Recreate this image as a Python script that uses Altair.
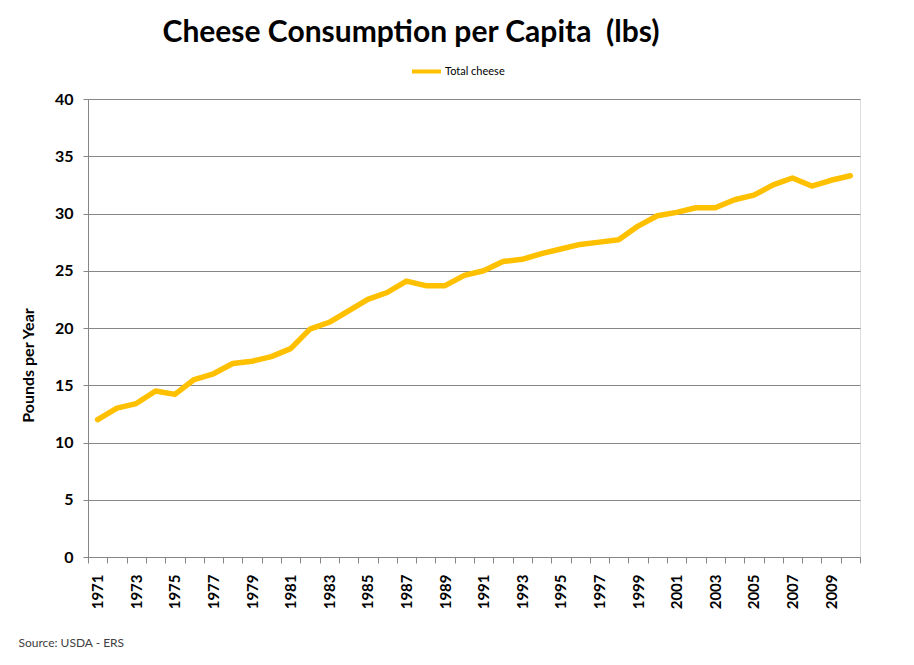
import altair as alt
import pandas as pd

years = list(range(1971, 2011))
cheese = [12.0, 13.0, 13.4, 14.5, 14.2, 15.5, 16.0, 16.9, 17.1, 17.5,
          18.2, 19.9, 20.5, 21.5, 22.5, 23.1, 24.1, 23.7, 23.7, 24.6,
          25.0, 25.8, 26.0, 26.5, 26.9, 27.3, 27.5, 27.7, 28.9, 29.8,
          30.1, 30.5, 30.5, 31.2, 31.6, 32.5, 33.1, 32.4, 32.9, 33.3]
series_name = "Total cheese"
y_ticks = [0, 5, 10, 15, 20, 25, 30, 35, 40]

df = pd.DataFrame({"year": years, "value": cheese, "series": series_name})

FONT = "Lato"
GRID = "#868686"

chart = alt.Chart(df).mark_line(strokeWidth=5.5, strokeCap="round", strokeJoin="round").encode(
    x=alt.X("year:O",
            bandPosition=0.5,
            scale=alt.Scale(type="band", paddingInner=0, paddingOuter=0),
            axis=alt.Axis(
                title="Source: USDA - ERS",
                titleFont=FONT, titleFontSize=12, titleFontWeight="normal",
                titleColor="#404040", titleAnchor="start", titleAlign="left",
                titleX=-70, titleY=85, titleBaseline="middle",
                labelExpr="datum.value % 2 == 1 ? datum.label : ''",
                labelAngle=270, labelAlign="right", labelBaseline="middle",
                labelFont=FONT, labelFontSize=15, labelFontWeight="bold",
                labelColor="#000000", labelPadding=11,
                tickBand="extent", tickSize=6, tickColor=GRID,
                domainColor=GRID, grid=False,
            )),
    y=alt.Y("value:Q",
            scale=alt.Scale(domain=[0, 40], nice=False),
            axis=alt.Axis(
                title="Pounds per Year",
                titleFont=FONT, titleFontSize=16, titleFontWeight="bold",
                titleColor="#000000", titlePadding=18, titleY=266,
                values=y_ticks,
                labelFont=FONT, labelFontSize=16, labelFontWeight="bold",
                labelColor="#000000", labelPadding=10,
                tickSize=5, tickColor=GRID, domainColor=GRID,
                grid=True, gridColor=GRID, gridWidth=1,
            )),
    color=alt.Color("series:N",
                    scale=alt.Scale(domain=[series_name], range=["#FFC000"]),
                    legend=alt.Legend(
                        title=None, orient="none", legendX=322, legendY=-44,
                        symbolType="stroke", symbolStrokeWidth=4, symbolSize=841,
                        labelFont=FONT, labelFontSize=11, labelColor="#000000",
                        labelOffset=2,
                    )),
).properties(
    width=772, height=458,
    autosize="none",
    padding={"left": 80, "top": 91, "right": 46, "bottom": 100},
    title=alt.TitleParams(
        "Cheese Consumption per Capita\u00a0\u00a0(lbs)",
        font=FONT, fontSize=30, fontWeight="bold", color="#000000",
        anchor="middle", dx=-63, offset=7,
    ),
).configure_view(stroke=None).configure(background="white")

chart.save("out.html", embed_options={"renderer": "svg", "actions": False})
